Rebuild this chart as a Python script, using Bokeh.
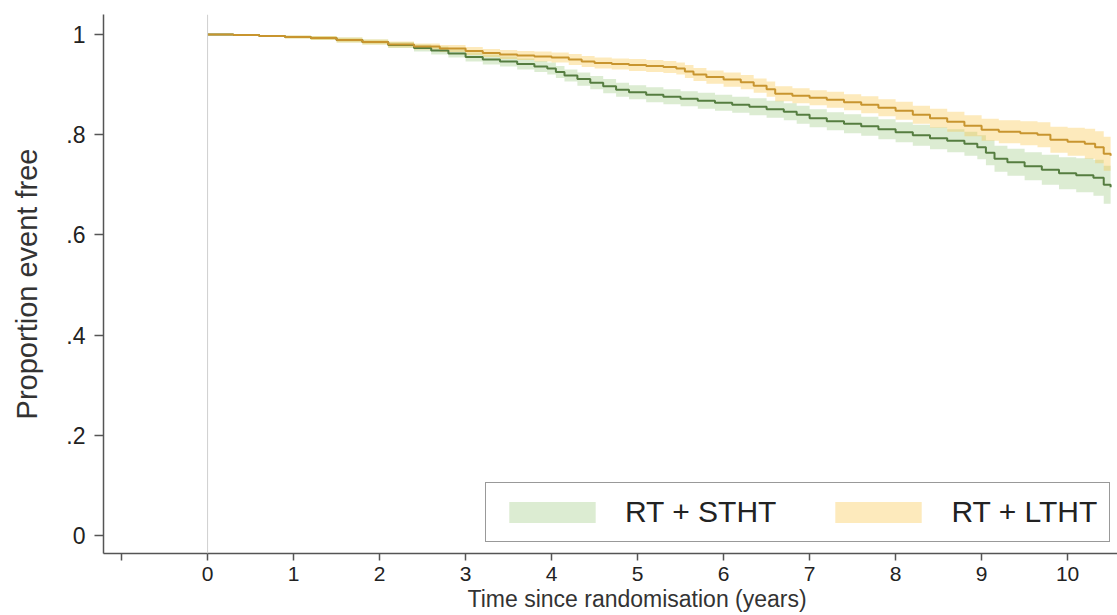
from bokeh.plotting import figure
from bokeh.models import Range1d, FixedTicker, Span, Title, Legend, LegendItem
from bokeh.embed import file_html
from bokeh.resources import INLINE

# RT + STHT (green): time (years), survival, lower CI, upper CI
sth_t = [0, 0.3, 0.6, 0.9, 1.2, 1.5, 1.8, 2.1, 2.4, 2.6, 2.8, 3.0, 3.2, 3.4, 3.6,
         3.8, 3.95, 4.05, 4.15, 4.3, 4.45, 4.6, 4.75, 4.9, 5.1, 5.3, 5.5, 5.7, 5.9, 6.1,
         6.3, 6.5, 6.7, 6.85, 7.0, 7.2, 7.4, 7.6, 7.8, 8.0, 8.2, 8.4, 8.6, 8.8, 8.95,
         9.05, 9.15, 9.3, 9.5, 9.7, 9.9, 10.1, 10.3, 10.42, 10.5]
sth_s = [1.0, 0.999, 0.997, 0.995, 0.993, 0.989, 0.985, 0.979, 0.973, 0.968, 0.962, 0.955,
         0.950, 0.946, 0.941, 0.936, 0.932, 0.925, 0.918, 0.911, 0.904, 0.897, 0.890, 0.885,
         0.880, 0.876, 0.872, 0.868, 0.864, 0.860, 0.856, 0.851, 0.846, 0.840, 0.833, 0.827,
         0.822, 0.817, 0.811, 0.805, 0.799, 0.793, 0.788, 0.782, 0.775, 0.764, 0.752, 0.745,
         0.737, 0.730, 0.723, 0.719, 0.714, 0.700, 0.695]
sth_lo = [1.0, 0.998, 0.995, 0.992, 0.989, 0.984, 0.980, 0.973, 0.966, 0.960, 0.954, 0.946,
          0.940, 0.936, 0.930, 0.925, 0.920, 0.913, 0.906, 0.898, 0.891, 0.883, 0.876, 0.871,
          0.865, 0.861, 0.857, 0.852, 0.848, 0.844, 0.839, 0.834, 0.829, 0.822, 0.815, 0.809,
          0.803, 0.798, 0.791, 0.785, 0.778, 0.771, 0.765, 0.758, 0.751, 0.739, 0.726, 0.718,
          0.709, 0.700, 0.691, 0.685, 0.678, 0.662, 0.656]
sth_hi = [1.0, 1.0, 0.999, 0.998, 0.997, 0.994, 0.990, 0.985, 0.980, 0.976, 0.970, 0.964,
          0.960, 0.956, 0.952, 0.947, 0.944, 0.937, 0.930, 0.924, 0.917, 0.911, 0.904, 0.899,
          0.895, 0.891, 0.887, 0.884, 0.880, 0.876, 0.873, 0.868, 0.863, 0.858, 0.851, 0.845,
          0.841, 0.836, 0.831, 0.825, 0.820, 0.815, 0.811, 0.806, 0.799, 0.789, 0.778, 0.772,
          0.765, 0.760, 0.755, 0.753, 0.750, 0.738, 0.734]

# RT + LTHT (orange)
lth_t = [0, 0.3, 0.6, 0.9, 1.2, 1.5, 1.8, 2.1, 2.4, 2.7, 3.0, 3.2, 3.4, 3.6, 3.8,
         4.0, 4.2, 4.35, 4.5, 4.7, 4.9, 5.1, 5.3, 5.45, 5.55, 5.65, 5.8, 6.0, 6.2, 6.35,
         6.5, 6.6, 6.8, 7.0, 7.2, 7.4, 7.6, 7.8, 8.0, 8.2, 8.4, 8.6, 8.8, 9.0, 9.2,
         9.45, 9.65, 9.8, 10.0, 10.2, 10.32, 10.42, 10.5]
lth_s = [1.0, 0.999, 0.997, 0.995, 0.993, 0.989, 0.985, 0.980, 0.976, 0.972, 0.967, 0.963,
         0.960, 0.958, 0.956, 0.954, 0.950, 0.946, 0.943, 0.941, 0.939, 0.937, 0.935, 0.932,
         0.926, 0.920, 0.915, 0.910, 0.905, 0.898, 0.891, 0.882, 0.878, 0.874, 0.870, 0.865,
         0.860, 0.854, 0.848, 0.840, 0.833, 0.826, 0.818, 0.810, 0.806, 0.803, 0.800, 0.790,
         0.786, 0.782, 0.775, 0.762, 0.758]
lth_lo = [1.0, 0.998, 0.995, 0.992, 0.989, 0.984, 0.980, 0.974, 0.970, 0.965, 0.959, 0.955,
          0.951, 0.949, 0.946, 0.944, 0.939, 0.935, 0.932, 0.930, 0.927, 0.925, 0.923, 0.920,
          0.913, 0.907, 0.902, 0.896, 0.891, 0.884, 0.876, 0.867, 0.863, 0.859, 0.854, 0.849,
          0.843, 0.837, 0.830, 0.822, 0.814, 0.806, 0.797, 0.788, 0.783, 0.779, 0.775, 0.764,
          0.758, 0.752, 0.743, 0.728, 0.723]
lth_hi = [1.0, 1.0, 0.999, 0.998, 0.997, 0.994, 0.990, 0.986, 0.982, 0.979, 0.975, 0.971,
          0.969, 0.967, 0.966, 0.964, 0.961, 0.957, 0.954, 0.952, 0.951, 0.949, 0.947, 0.944,
          0.939, 0.933, 0.928, 0.924, 0.919, 0.912, 0.906, 0.897, 0.893, 0.889, 0.886, 0.881,
          0.877, 0.871, 0.866, 0.858, 0.852, 0.846, 0.839, 0.832, 0.829, 0.827, 0.825, 0.816,
          0.814, 0.812, 0.807, 0.796, 0.793]

x_ticks = [-1, 0, 1, 2, 3, 4, 5, 6, 7, 8, 9, 10]
y_ticks = [0, 0.2, 0.4, 0.6, 0.8, 1.0]
y_tick_labels = ["0", ".2", ".4", ".6", ".8", "1"]
series_names = ["RT + STHT", "RT + LTHT"]

FONT = "Liberation Sans"

p = figure(width=1117, height=615, output_backend="svg", toolbar_location=None,
           x_range=Range1d(-1.21, 10.58), y_range=Range1d(-0.036, 1.04),
           min_border_left=103, min_border_right=0, min_border_top=14, min_border_bottom=62)
p.outline_line_color = None
p.grid.visible = False
p.background_fill_color = "white"
p.border_fill_color = "white"

p.add_layout(Span(location=0, dimension="height", line_color="#cfcfcf", line_width=1))

g_band = p.varea_step(x=sth_t, y1=sth_lo, y2=sth_hi, step_mode="after",
                      fill_color="#8cc06a", fill_alpha=0.3)
o_band = p.varea_step(x=lth_t, y1=lth_lo, y2=lth_hi, step_mode="after",
                      fill_color="#f9c440", fill_alpha=0.35)
p.step(sth_t, sth_s, mode="after", line_color="#557d40", line_width=2)
p.step(lth_t, lth_s, mode="after", line_color="#c8952f", line_width=2)

legend = Legend(items=[LegendItem(label=series_names[0], renderers=[g_band]),
                       LegendItem(label=series_names[1], renderers=[o_band])],
                orientation="horizontal", location=(382, 11))
legend.glyph_width = 108
legend.glyph_height = 26
legend.label_standoff = 19
legend.spacing = 48
legend.padding = 12
legend.margin = 0
legend.label_text_font = FONT
legend.label_text_font_size = "30px"
legend.label_text_color = "#222222"
legend.border_line_color = "#333333"
legend.border_line_width = 1.5
legend.background_fill_color = "white"
legend.background_fill_alpha = 1.0
p.add_layout(legend)

for ax in (p.xaxis[0], p.yaxis[0]):
    ax.axis_line_color = "#555555"
    ax.axis_line_width = 1.5
    ax.major_tick_line_color = "#555555"
    ax.major_tick_line_width = 1.5
    ax.major_tick_in = 0
    ax.minor_tick_line_color = None
    ax.major_label_text_font = FONT
    ax.major_label_text_color = "#222222"

p.xaxis.ticker = FixedTicker(ticks=x_ticks)
p.xaxis.major_label_overrides = {-1: ""}
p.xaxis.major_tick_out = 7
p.xaxis.major_label_standoff = 6
p.xaxis.major_label_text_font_size = "21px"

p.yaxis.ticker = FixedTicker(ticks=y_ticks)
p.yaxis.major_label_overrides = {t: l for t, l in zip(y_ticks, y_tick_labels)}
p.yaxis.major_tick_out = 9
p.yaxis.major_label_standoff = 9
p.yaxis.major_label_text_font_size = "23px"
p.yaxis.axis_label = "Proportion event free"
p.yaxis.axis_label_text_font = FONT
p.yaxis.axis_label_text_font_size = "29px"
p.yaxis.axis_label_text_font_style = "normal"
p.yaxis.axis_label_text_color = "#333333"
p.yaxis.axis_label_standoff = 20

p.add_layout(Title(text="Time since randomisation (years)", align="left", offset=364,
                   standoff=0, text_font=FONT, text_font_size="23px",
                   text_font_style="normal", text_color="#333333"), "below")

open("out.html", "w").write(file_html(p, INLINE))
